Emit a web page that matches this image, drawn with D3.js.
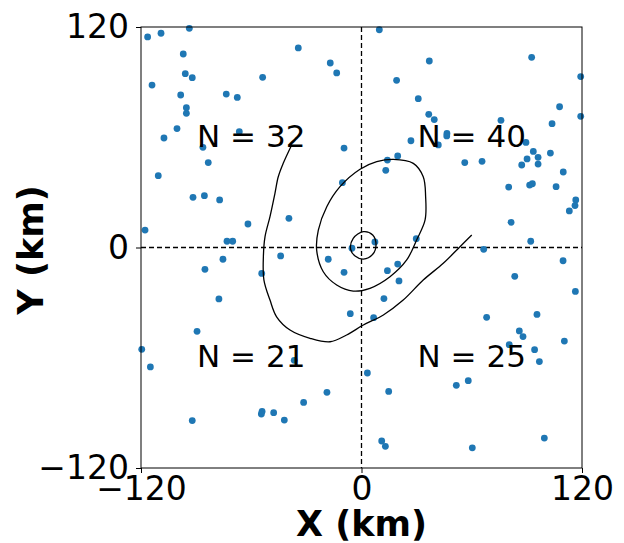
<!DOCTYPE html>
<html lang="en">
<head>
<meta charset="UTF-8">
<title>Contour scatter</title>
<script src="https://d3js.org/d3.v7.min.js"></script>
<style>
  body { margin: 0; background: white; }
  svg { display: block; font-family: "DejaVu Sans", sans-serif; }
</style>
</head>
<body>
<svg></svg>
<script>
// station positions (km)
const ptsX = [
  -116.4,-109.1,-93.7,-34.4,-97.0,-17.0,-13.5,-95.9,-92.1,-53.8,-114.0,-98.4,-73.6,-67.6,-95.3,-95.3,
  -100.4,-66.5,-107.5,-86.3,-9.5,-83.4,-110.6,-10.4,-91.7,-85.5,-77.2,-39.5,-61.8,-117.8,-73.2,-70.1,
  9.7,92.6,36.9,19.1,119.3,30.9,107.8,36.6,39.6,119.3,103.7,75.9,46.5,46.4,26.9,41.8,89.5,93.5,
  102.8,96.1,90.1,87.2,96.1,14.1,19.7,13.2,56.2,65.6,109.8,80.1,91.5,93.0,105.9,116.6,116.2,113.1,
  81.4,29.8,92.1,7.3,
  -5.2,-44.0,-75.4,-18.1,-85.2,-54.3,-9.5,-77.6,-6.1,-89.5,-119.6,-36.6,-114.9,-18.8,-31.5,-54.1,
  -54.5,-47.8,-42.0,-92.1,
  66.5,109.7,19.7,14.1,83.4,20.4,116.4,12.2,95.5,68.1,6.6,85.9,87.9,110.4,80.4,94.2,96.8,3.2,
  58.1,51.6,14.8,99.5,11.0,13.0,60.3
];
const ptsY = [
  114.6,116.6,119.3,108.6,105.3,100.4,95.0,94.6,92.4,92.6,88.4,83.0,83.5,81.7,76.1,73.0,
  64.7,63.0,59.6,54.5,54.1,46.2,39.1,35.3,27.3,28.2,25.9,15.9,12.8,9.5,3.4,3.4,
  118.5,103.5,101.5,91.0,93.0,81.0,76.6,72.5,69.6,71.4,67.4,69.2,62.1,60.7,58.1,55.8,57.2,52.3,
  51.4,49.1,48.2,44.9,45.4,47.6,49.8,42.0,46.2,46.9,41.1,32.9,34.0,34.7,33.1,25.9,22.8,19.9,
  13.7,4.8,3.4,3.0,
  -0.4,-4.6,-6.4,-6.4,-11.9,-14.1,-13.5,-28.0,-36.0,-45.6,-55.4,-61.4,-65.0,-78.8,-84.3,-89.2,
  -90.6,-89.9,-93.9,-94.2,
  -1.0,-7.2,-9.0,-12.6,-15.7,-18.2,-23.9,-27.8,-36.4,-38.0,-38.2,-45.4,-48.5,-50.9,-52.9,-55.6,-62.1,-68.3,
  -72.5,-75.0,-78.3,-103.7,-105.3,-108.2,-109.0
];

// contour lines (km)
const innerX = [1.0, 6.1, 7.9, 6.1, 1.0, -3.5, -5.9, -4.5];
const innerY = [8.6, 6.8, 1.4, -3.7, -6.3, -4.6, -1.0, 5.0];
const midX = [17.3, 28.2, 33.6, 34.9, 34.6, 30.0, 24.6, 15.5, 4.6, -4.5, -13.5, -20.8, -24.4, -23.5, -18.9, -11.7, -0.8, 8.3];
const midY = [48.0, 45.8, 38.5, 27.6, 15.0, 4.1, -6.8, -15.9, -22.2, -23.7, -20.4, -13.2, -1.4, 9.5, 22.2, 33.1, 42.6, 46.7];
const outerX = [-38.0, -42.6, -45.3, -47.1, -49.8, -52.5, -53.4, -53.1, -49.8, -46.2, -38.9, -28.0, -17.1, -8.1, 1.0, 11.9, 22.7, 33.6, 44.5, 53.6, 60.0];
const outerY = [55.8, 45.8, 38.5, 29.5, 16.8, 5.9, -5.0, -17.7, -28.6, -37.7, -44.9, -49.4, -51.3, -47.6, -42.2, -36.7, -28.6, -17.7, -8.6, 0.4, 6.8];

// quadrant counts
const countLabels = ["N = 32", "N = 40", "N = 21", "N = 25"];
const countX = [-89.5, 30.5, -89.5, 30.5];
const countY = [54.9, 54.9, -64.9, -64.9];

const ticks = [-120, 0, 120];

const w = 624, h = 543;
const pL = 141, pR = 582, pT = 27, pB = 468;

const svg = d3.select("svg").attr("width", w).attr("height", h);

const x = d3.scaleLinear().domain([-120, 120]).range([pL, pR]);
const y = d3.scaleLinear().domain([-120, 120]).range([pB, pT]);

// dashed axes through origin
svg.append("line")
   .attr("x1", x(0)).attr("x2", x(0)).attr("y1", pT).attr("y2", pB)
   .attr("stroke", "black").attr("stroke-width", 1.3).attr("stroke-dasharray", "5,3");
svg.append("line")
   .attr("x1", pL).attr("x2", pR).attr("y1", y(0)).attr("y2", y(0))
   .attr("stroke", "black").attr("stroke-width", 1.3).attr("stroke-dasharray", "5,3");

// points
svg.append("g").selectAll("circle")
   .data(d3.range(ptsX.length))
   .enter().append("circle")
   .attr("cx", i => x(ptsX[i]))
   .attr("cy", i => y(ptsY[i]))
   .attr("r", 3.4)
   .attr("fill", "#1f77b4");

// contours
const closed = d3.line().x(d => x(d[0])).y(d => y(d[1])).curve(d3.curveCatmullRomClosed);
const open = d3.line().x(d => x(d[0])).y(d => y(d[1])).curve(d3.curveCatmullRom);

svg.append("path").attr("d", closed(d3.zip(innerX, innerY)))
   .attr("fill", "none").attr("stroke", "black").attr("stroke-width", 1.3);
svg.append("path").attr("d", closed(d3.zip(midX, midY)))
   .attr("fill", "none").attr("stroke", "black").attr("stroke-width", 1.3);
svg.append("path").attr("d", open(d3.zip(outerX, outerY)))
   .attr("fill", "none").attr("stroke", "black").attr("stroke-width", 1.3);

// N labels
svg.append("g").selectAll("text")
   .data(countLabels)
   .enter().append("text")
   .attr("x", (d, i) => x(countX[i]))
   .attr("y", (d, i) => y(countY[i]))
   .attr("font-size", "31px")
   .text(d => d);

// frame
svg.append("rect")
   .attr("x", pL).attr("y", pT)
   .attr("width", pR - pL).attr("height", pB - pT)
   .attr("fill", "none").attr("stroke", "black").attr("stroke-width", 1);

const fmt = d => d < 0 ? "\u2212" + Math.abs(d) : String(d);

const xAxis = d3.axisBottom(x).tickValues(ticks).tickFormat(fmt).tickSize(5).tickSizeOuter(0);
const yAxis = d3.axisLeft(y).tickValues(ticks).tickFormat(fmt).tickSize(5).tickSizeOuter(0);

const gx = svg.append("g")
   .attr("transform", "translate(0," + pB + ")")
   .call(xAxis);
gx.select(".domain").remove();
gx.selectAll("text").attr("font-size", "33px").attr("font-family", "DejaVu Sans").attr("fill", "black").attr("y", 7).attr("dy", "0.76em");

const gy = svg.append("g")
   .attr("transform", "translate(" + pL + ",0)")
   .call(yAxis);
gy.select(".domain").remove();
gy.selectAll("text").attr("font-size", "33px").attr("font-family", "DejaVu Sans").attr("fill", "black").attr("x", -12);

svg.append("text")
   .attr("x", (pL + pR) / 2)
   .attr("y", 536)
   .attr("text-anchor", "middle")
   .attr("font-weight", "bold")
   .attr("font-size", "35px")
   .text("X (km)");

svg.append("text")
   .attr("transform", "rotate(-90)")
   .attr("x", -250)
   .attr("y", 43)
   .attr("text-anchor", "middle")
   .attr("font-weight", "bold")
   .attr("font-size", "35px")
   .text("Y (km)");
</script>
</body>
</html>
